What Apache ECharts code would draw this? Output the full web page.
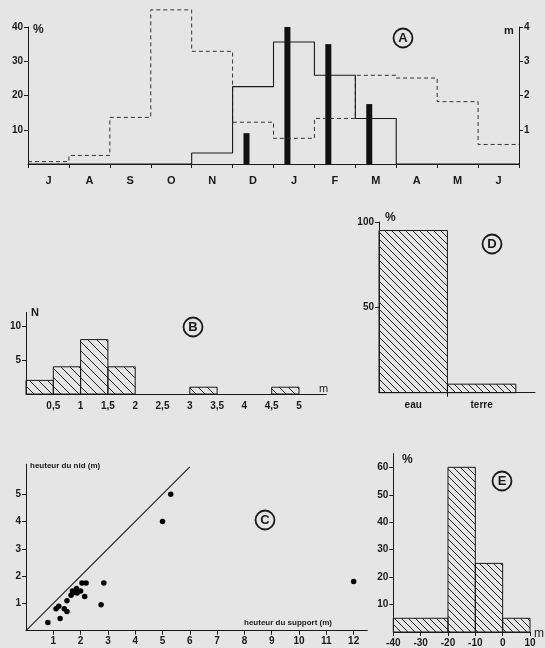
<!DOCTYPE html>
<html>
<head>
<meta charset="utf-8">
<script src="https://cdn.jsdelivr.net/npm/echarts@6/dist/echarts.min.js"></script>
<style>
html,body{margin:0;padding:0;background:#e5e5e5;}
#chart{width:545px;height:648px;}
</style>
</head>
<body>
<div id="chart"></div>
<script>
// ---------- DATA ----------
// Panel A (monthly)
const months = ['J','A','S','O','N','D','J','F','M','A','M','J'];
const dashedPct = [0.7, 2.5, 13.6, 45, 32.9, 12.2, 7.5, 13.3, 25.9, 25.1, 18.2, 5.7];
const solidPct  = [0, 0, 0, 0, 3.2, 22.6, 35.6, 25.9, 13.3, 0, 0, 0];
const barMeters = [0, 0, 0, 0, 0, 0.9, 4.0, 3.5, 1.75, 0, 0, 0];
const aLeftTicks = [10, 20, 30, 40];
const aRightTicks = [1, 2, 3, 4];

// Panel B (histogram of heights, m)
const bLow   = [0, 0.5, 1, 1.5, 3, 4.5];
const bHigh  = [0.5, 1, 1.5, 2, 3.5, 5];
const bCount = [2, 4, 8, 4, 1, 1];
const bXTicks = [0.5, 1, 1.5, 2, 2.5, 3, 3.5, 4, 4.5, 5];
const bYTicks = [5, 10];

// Panel C (nest height vs support height)
const cSupport = [0.8, 1.1, 1.2, 1.25, 1.4, 1.5, 1.5, 1.65, 1.7, 1.75, 1.85, 1.87, 2.0, 2.05, 2.15, 2.2, 2.75, 2.85, 5.0, 5.3, 12];
const cNest    = [0.3, 0.8, 0.9, 0.45, 0.8, 1.1, 0.7, 1.3, 1.45, 1.4, 1.55, 1.38, 1.45, 1.75, 1.25, 1.75, 0.95, 1.75, 4.0, 5.0, 1.8];
const cDiagonal = [[0, 0], [6, 6]];
const cXTicks = [1,2,3,4,5,6,7,8,9,10,11,12];
const cYTicks = [1,2,3,4,5];

// Panel D (eau / terre)
const dCats = ['eau', 'terre'];
const dVals = [95, 5];
const dYTicks = [50, 100];

// Panel E
const eLow  = [-40, -20, -10, 0];
const eHigh = [-20, -10, 0, 10];
const eVals = [5, 60, 25, 5];
const eXTicks = [-40, -30, -20, -10, 0, 10];
const eYTicks = [10, 20, 30, 40, 50, 60];

// ---------- STYLE HELPERS ----------
const INK = '#1a1a1a';
const FONT = 'Liberation Sans, Arial, sans-serif';

function makeHatch(s) {
  const c = document.createElement('canvas');
  c.width = s; c.height = s;
  const g = c.getContext('2d');
  g.strokeStyle = '#222';
  g.lineWidth = 1;
  g.beginPath();
  g.moveTo(-1, -1); g.lineTo(s + 1, s + 1);
  g.moveTo(-1, s - 1); g.lineTo(1, s + 1);
  g.moveTo(s - 1, -1); g.lineTo(s + 1, 1);
  g.stroke();
  return c;
}
const hatch = { image: makeHatch(7), repeat: 'repeat' };
const hatchWide = { image: makeHatch(9), repeat: 'repeat' };

function axisBase(extra) {
  return Object.assign({
    axisLine: { show: true, onZero: false, lineStyle: { color: INK, width: 1 } },
    axisTick: { show: true, length: 4, inside: false, lineStyle: { color: INK } },
    axisLabel: { color: INK, fontSize: 10, fontWeight: 'bold', fontFamily: FONT, margin: 5 },
    splitLine: { show: false }
  }, extra);
}
function withLabels(ax, labelVals, tickVals, formatter) {
  ax.axisLabel = Object.assign({}, ax.axisLabel, { customValues: labelVals });
  if (formatter) ax.axisLabel.formatter = formatter;
  ax.axisTick = Object.assign({}, ax.axisTick, { customValues: tickVals });
  return ax;
}

function makeHistRender(fillPattern) {
  return function (params, api) {
    const p0 = api.coord([api.value(0), api.value(2)]);
    const p1 = api.coord([api.value(1), 0]);
    return {
      type: 'rect',
      shape: { x: p0[0], y: p0[1], width: p1[0] - p0[0], height: p1[1] - p0[1] },
      style: { fill: fillPattern, stroke: INK, lineWidth: 1 }
    };
  };
}
function blackBarRender(params, api) {
  const top = api.coord([api.value(0) + 0.34, api.value(1)]);
  const base = api.coord([api.value(0) + 0.34, 0]);
  return {
    type: 'rect',
    shape: { x: top[0] - 3, y: top[1], width: 6, height: base[1] - top[1] },
    style: { fill: '#111' }
  };
}

// ---------- BUILD SERIES DATA ----------
const dashedData = dashedPct.map((v, i) => [i, v]).concat([[12, dashedPct[11]]]);
const solidData = solidPct.map((v, i) => [i, v]).concat([[12, solidPct[11]]]);
const barData = barMeters.map((v, i) => [i, v]).filter(d => d[1] > 0);
const bData = bCount.map((v, i) => [bLow[i], bHigh[i], v]);
const dData = dVals.map((v, i) => [i, i + 1, v]);
const eData = eVals.map((v, i) => [eLow[i], eHigh[i], v]);
const cData = cSupport.map((x, i) => [x, cNest[i]]);

// ---------- AXES ----------
const xAxes = [
  axisBase({ type: 'category', gridIndex: 0, data: months, boundaryGap: true,
    axisLabel: { color: INK, fontSize: 11, fontWeight: 'bold', fontFamily: FONT, margin: 11 },
    axisTick: { show: true, length: 4, lineStyle: { color: INK }, alignWithLabel: false } }),
  { type: 'value', gridIndex: 0, min: 0, max: 12, show: false },
  withLabels(axisBase({ type: 'value', gridIndex: 1, min: 0, max: 5.5 }), bXTicks, [],
    v => String(v).replace('.', ',')),
  withLabels(axisBase({ type: 'value', gridIndex: 2, min: 0, max: 2.28 }), [0.5, 1.5], [1],
    v => dCats[Math.floor(v)]),
  withLabels(axisBase({ type: 'value', gridIndex: 3, min: 0, max: 12.5 }), cXTicks, cXTicks),
  withLabels(axisBase({ type: 'value', gridIndex: 4, min: -40, max: 10 }), eXTicks, eXTicks)
];
xAxes[2].axisTick.show = false;
xAxes[2].axisLabel.margin = 7;
xAxes[3].axisLabel.margin = 8;
xAxes[4].axisLabel.margin = 6;
xAxes[5].axisLabel.margin = 6;

const yAxes = [
  withLabels(axisBase({ type: 'value', gridIndex: 0, min: 0, max: 40, position: 'left' }), aLeftTicks, aLeftTicks),
  withLabels(axisBase({ type: 'value', gridIndex: 0, min: 0, max: 4, position: 'right' }), aRightTicks, aRightTicks),
  withLabels(axisBase({ type: 'value', gridIndex: 1, min: 0, max: 12 }), bYTicks, bYTicks),
  withLabels(axisBase({ type: 'value', gridIndex: 2, min: 0, max: 100 }), dYTicks, dYTicks),
  withLabels(axisBase({ type: 'value', gridIndex: 3, min: 0, max: 6.1 }), cYTicks, cYTicks),
  withLabels(axisBase({ type: 'value', gridIndex: 4, min: 0, max: 65 }), eYTicks, eYTicks)
];

// ---------- GRAPHICS (labels, circled letters) ----------
function circled(letter, x, y) {
  return {
    type: 'group', x: x, y: y,
    children: [
      { type: 'circle', shape: { cx: 0, cy: 0, r: 9.5 }, style: { fill: 'none', stroke: INK, lineWidth: 1.8 } },
      { type: 'text', style: { text: letter, x: 0, y: 0.5, align: 'center', verticalAlign: 'middle',
        font: 'bold 13px ' + FONT, fill: INK } }
    ]
  };
}
function label(txt, x, y, opts) {
  return { type: 'text', x: x, y: y, style: Object.assign({ text: txt, font: 'bold 11px ' + FONT, fill: INK,
    align: 'left', verticalAlign: 'middle' }, opts || {}) };
}

const chart = echarts.init(document.getElementById('chart'), null, { renderer: 'canvas' });
chart.setOption({
  backgroundColor: '#e5e5e5',
  animation: false,
  grid: [
    { left: 28, right: 26, top: 27, bottom: 484 },
    { left: 26, right: 218.7, top: 312.4, bottom: 254 },
    { left: 379, right: 10, top: 222, bottom: 255.3 },
    { left: 26, right: 177.7, top: 464.2, bottom: 17.3 },
    { left: 393.3, right: 15, top: 453.6, bottom: 15.7 }
  ],
  xAxis: xAxes,
  yAxis: yAxes,
  series: [
    { type: 'line', xAxisIndex: 1, yAxisIndex: 0, data: dashedData, step: 'end', symbol: 'none', clip: false,
      lineStyle: { color: '#333', width: 1, type: [4, 3] } },
    { type: 'line', xAxisIndex: 1, yAxisIndex: 0, data: solidData, step: 'end', symbol: 'none', clip: false,
      lineStyle: { color: INK, width: 1.1 } },
    { type: 'custom', xAxisIndex: 1, yAxisIndex: 1, data: barData, renderItem: blackBarRender, clip: false },
    { type: 'custom', xAxisIndex: 2, yAxisIndex: 2, data: bData, renderItem: makeHistRender(hatchWide), encode: { x: [0, 1], y: 2 } },
    { type: 'custom', xAxisIndex: 3, yAxisIndex: 3, data: dData, renderItem: makeHistRender(hatch), encode: { x: [0, 1], y: 2 } },
    { type: 'line', xAxisIndex: 4, yAxisIndex: 4, data: cDiagonal, symbol: 'none',
      lineStyle: { color: INK, width: 1.1 } },
    { type: 'scatter', xAxisIndex: 4, yAxisIndex: 4, data: cData, symbolSize: 5.5, itemStyle: { color: '#000', opacity: 1 } },
    { type: 'custom', xAxisIndex: 5, yAxisIndex: 5, data: eData, renderItem: makeHistRender(hatch), encode: { x: [0, 1], y: 2 } }
  ],
  graphic: [
    label('%', 33, 30, { font: 'bold 12px ' + FONT }),
    label('m', 504, 31, { font: 'bold 11px ' + FONT }),
    circled('A', 403, 38),
    label('N', 31, 313),
    label('m', 319, 389, { font: '11px ' + FONT }),
    circled('B', 193, 327),
    label('%', 385, 218, { font: 'bold 12px ' + FONT }),
    circled('D', 492, 244),
    label('heuteur du nid (m)', 30, 466, { font: 'bold 8px ' + FONT }),
    label('heuteur du support (m)', 244, 623, { font: 'bold 8px ' + FONT }),
    circled('C', 265, 520),
    label('%', 402, 460, { font: 'bold 12px ' + FONT }),
    label('m', 534, 634, { font: '12px ' + FONT }),
    circled('E', 502, 481)
  ]
});
</script>
</body>
</html>
